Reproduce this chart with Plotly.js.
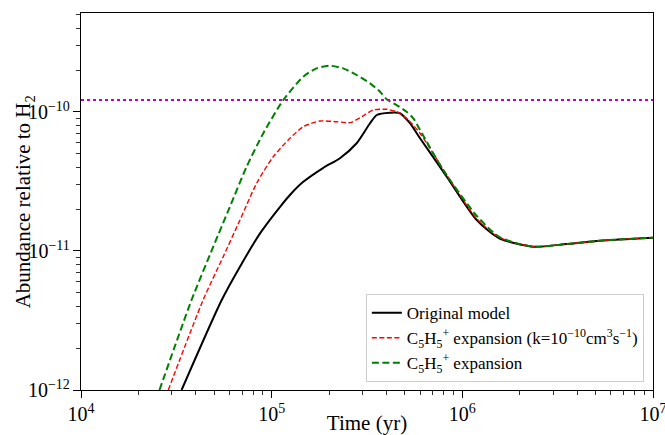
<!DOCTYPE html>
<html>
<head>
<meta charset="utf-8">
<script src="https://cdn.plot.ly/plotly-3.0.1.min.js"></script>
<style>html,body{margin:0;padding:0;background:#fff;}#chart{width:665px;height:435px;}</style>
</head>
<body>
<div id="chart"></div>
<script>
// Original model
const tOrig = [3.37e4, 5.47e4, 6.82e4, 8.69e4, 1.107e5, 1.247e5, 1.459e5, 1.858e5, 2.28e5, 2.79e5, 3.28e5, 3.56e5, 4.17e5, 4.71e5, 5.31e5, 6.0e5, 8.28e5, 1.19e6, 1.57e6, 2.35e6, 3.52e6, 5.27e6, 1e7];
const aOrig = [1.0e-12, 4.44e-12, 7.71e-12, 1.34e-11, 2.08e-11, 2.53e-11, 3.13e-11, 3.95e-11, 4.65e-11, 5.96e-11, 8.30e-11, 9.51e-11, 9.88e-11, 9.79e-11, 8.30e-11, 6.47e-11, 3.43e-11, 1.67e-11, 1.23e-11, 1.074e-11, 1.122e-11, 1.186e-11, 1.247e-11];
// C5H5+ expansion with k=1e-10
const tRed = [2.87e4, 4.37e4, 5.57e4, 6.82e4, 8.34e4, 1.019e5, 1.247e5, 1.466e5, 1.79e5, 2.19e5, 2.58e5, 2.97e5, 3.41e5, 4.01e5, 4.52e5, 5.10e5, 6.0e5, 8.28e5, 1.19e6, 1.57e6, 2.35e6, 3.52e6, 5.27e6, 1e7];
const aRed = [1.0e-12, 4.44e-12, 9.10e-12, 1.67e-11, 3.07e-11, 4.76e-11, 6.47e-11, 7.84e-11, 8.61e-11, 8.51e-11, 8.38e-11, 9.25e-11, 1.033e-10, 1.045e-10, 1.004e-10, 9.01e-11, 7.03e-11, 3.52e-11, 1.71e-11, 1.25e-11, 1.074e-11, 1.122e-11, 1.186e-11, 1.247e-11];
// C5H5+ expansion
const tGreen = [2.58e4, 3.80e4, 4.94e4, 6.04e4, 7.39e4, 9.04e4, 1.151e5, 1.466e5, 1.72e5, 2.02e5, 2.37e5, 2.79e5, 3.28e5, 3.70e5, 4.01e5, 4.52e5, 5.10e5, 5.53e5, 6.0e5, 7.94e5, 1.19e6, 1.57e6, 2.35e6, 3.52e6, 5.27e6, 1e7];
const aGreen = [1.0e-12, 4.44e-12, 1.074e-11, 2.08e-11, 4.04e-11, 7.03e-11, 1.219e-10, 1.795e-10, 2.06e-10, 2.15e-10, 2.06e-10, 1.845e-10, 1.607e-10, 1.40e-10, 1.234e-10, 1.122e-10, 1.004e-10, 9.01e-11, 7.43e-11, 3.83e-11, 1.79e-11, 1.26e-11, 1.074e-11, 1.122e-11, 1.186e-11, 1.247e-11];
// Observed level
const tObs = [1e4, 1e7];
const aObs = [1.22e-10, 1.22e-10];

const names = ["Original model",
  "C<sub>5</sub>H<sub>5</sub><sup>+</sup> expansion (k=10<sup>−10</sup>cm<sup>3</sup>s<sup>−1</sup>)",
  "C<sub>5</sub>H<sub>5</sub><sup>+</sup> expansion"];
const xTitle = "Time (yr)";
const yTitle = "Abundance relative to H<sub>2</sub>";

const font = "'Liberation Serif', 'DejaVu Serif', serif";

const data = [
  {x: tOrig, y: aOrig, mode: 'lines', name: names[0], line: {color: '#000000', width: 2, shape: 'spline', smoothing: 0.7}},
  {x: tRed, y: aRed, mode: 'lines', name: names[1], line: {color: '#ff0000', width: 1.4, dash: '5px,2.5px', shape: 'spline', smoothing: 0.7}},
  {x: tGreen, y: aGreen, mode: 'lines', name: names[2], line: {color: '#008000', width: 2, dash: '7px,3.5px', shape: 'spline', smoothing: 0.7}},
  {x: tObs, y: aObs, mode: 'lines', showlegend: false, line: {color: '#bf00bf', width: 2, dash: 'dot'}}
];

const layout = {
  width: 665, height: 435,
  margin: {l: 81, r: 12, t: 13, b: 45},
  paper_bgcolor: '#fff', plot_bgcolor: '#fff',
  font: {family: font, size: 16, color: '#000'},
  showlegend: true,
  legend: {x: 0.984, y: 0.021, xanchor: 'right', yanchor: 'bottom', bgcolor: '#fff', bordercolor: '#cccccc', borderwidth: 1, font: {family: font, size: 17, color: '#000'}, tracegroupgap: 0},
  xaxis: {
    type: 'log', range: [4, 7], showgrid: false, zeroline: false,
    showline: true, linecolor: '#000', linewidth: 1, mirror: true,
    ticks: 'outside', ticklen: 7, tickwidth: 1, tickcolor: '#000',
    dtick: 1, exponentformat: 'power', tickfont: {family: font, size: 16},
    ticklabeloverflow: 'allow',
    minor: {dtick: 'D1', ticks: 'outside', ticklen: 4, tickwidth: 0.8, tickcolor: '#000', showgrid: false},
    title: {text: xTitle, font: {family: font, size: 21}, standoff: 6}
  },
  yaxis: {
    type: 'log', range: [-12, -9.288], showgrid: false, zeroline: false,
    showline: true, linecolor: '#000', linewidth: 1, mirror: true,
    ticks: 'outside', ticklen: 7, tickwidth: 1, tickcolor: '#000',
    dtick: 1, exponentformat: 'power', tickfont: {family: font, size: 16},
    ticklabeloverflow: 'allow',
    minor: {dtick: 'D1', ticks: 'outside', ticklen: 4, tickwidth: 0.8, tickcolor: '#000', showgrid: false}
  },
  annotations: [{
    text: yTitle, xref: 'paper', yref: 'paper', x: -0.1, y: 0.5,
    xanchor: 'center', yanchor: 'middle', textangle: -90, showarrow: false,
    font: {family: font, size: 21, color: '#000'}
  }]
};

Plotly.newPlot('chart', data, layout, {staticPlot: true, displayModeBar: false});
</script>
</body>
</html>
